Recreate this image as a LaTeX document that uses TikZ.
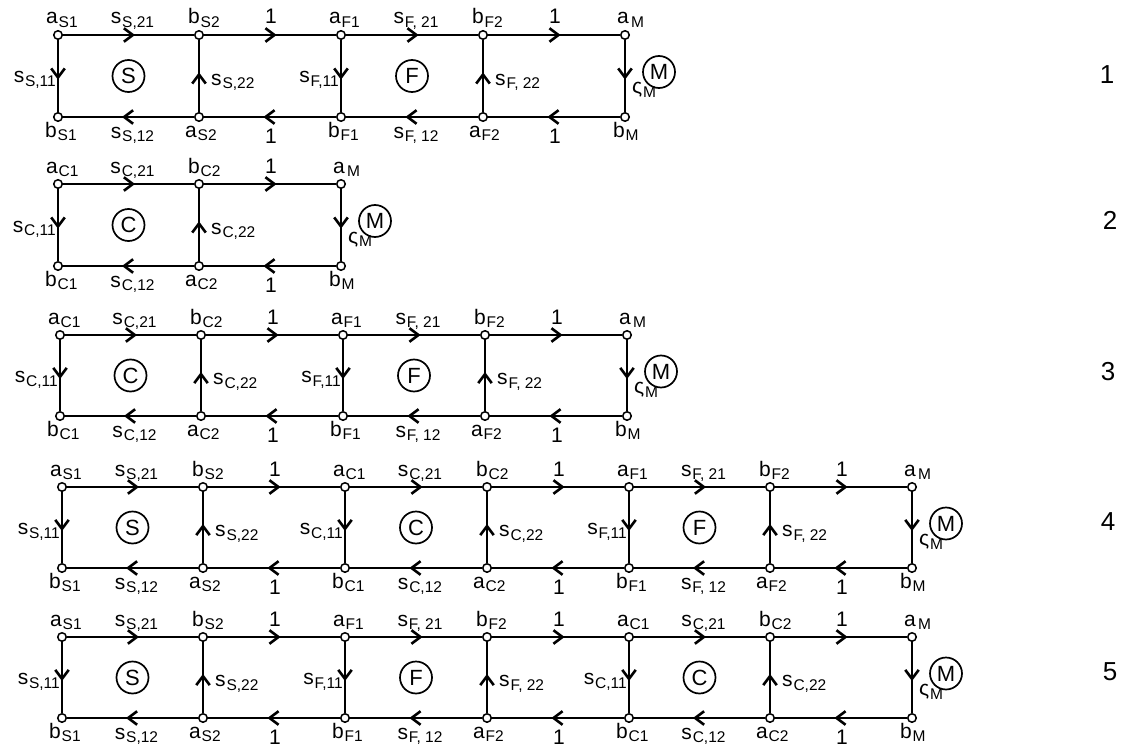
\documentclass[tikz,border=0pt]{standalone}
\usepackage{fontspec}
\setmainfont{Liberation Sans}
\usetikzlibrary{arrows.meta,decorations.markings,calc}
\newcommand\lb[2]{#1\kern0.8pt\raisebox{-3.5pt}{\fontsize{15.5}{16}\selectfont #2}}
\tikzset{
  pt/.style={circle,draw,fill=white,line width=1.5pt,inner sep=0pt,minimum size=8.5pt},
  edge/.style={line width=2.6pt},
  marr/.style={postaction={decorate,decoration={markings,mark=at position 0.55 with {\arrow{Straight Barb[length=9pt,width=13.5pt]}}}}},
  lab/.style={inner sep=0pt,font=\fontsize{21}{21}\selectfont},
  circ/.style={circle,draw,line width=1.7pt,minimum size=32pt,inner sep=0pt,font=\fontsize{22}{22}\selectfont},
  rown/.style={inner sep=0pt,font=\fontsize{26}{26}\selectfont},
}
% #1 row, #2 x0, #3 x1, #4 ytop, #5 ybot, #6 letter, #7 separator
\newcommand\blockU[7]{%
  \node[pt] (#1a#61) at (#2,#4) {};
  \node[pt] (#1b#61) at (#2,#5) {};
  \node[pt] (#1b#62) at (#3,#4) {};
  \node[pt] (#1a#62) at (#3,#5) {};
  \draw[edge,marr] (#1a#61) -- (#1b#62);
  \draw[edge,marr] (#1a#62) -- (#1b#61);
  \draw[edge,marr] (#1a#61) -- (#1b#61);
  \draw[edge,marr] (#1a#62) -- (#1b#62);
  \node[circ] (#1c#6) at ($(#1a#61)!0.5!(#1a#62)$) {#6};
  \node[lab,anchor=base west] (#1la#61) at ($(#1a#61)+(-12,-11)$) {\lb{a}{#61}};
  \node[lab,anchor=base west] (#1lb#62) at ($(#1b#62)+(-11,-11)$) {\lb{b}{#62}};
  \node[lab,anchor=base west] (#1lb#61) at ($(#1b#61)+(-13,20)$) {\lb{b}{#61}};
  \node[lab,anchor=base west] (#1la#62) at ($(#1a#62)+(-14,20)$) {\lb{a}{#62}};
  \node[lab,anchor=base] (#1ls#621) at ($(#1a#61)!0.5!(#1b#62)+(4,-11)$) {\lb{s}{#6#721}};
  \node[lab,anchor=base] (#1ls#612) at ($(#1a#62)!0.5!(#1b#61)+(4,21)$) {\lb{s}{#6#712}};
  \node[lab,anchor=base east] (#1ls#611) at ($(#1a#61)!0.5!(#1b#61)+(-2,7)$) {\lb{s}{#6,11}};
  \node[lab,anchor=base west] (#1ls#622) at ($(#1a#62)!0.5!(#1b#62)+(12,9)$) {\lb{s}{#6#722}};
}
% #1 row, #2 x, #3 ytop, #4 ybot
\newcommand\blockM[4]{%
  \node[pt] (#1aM) at (#2,#3) {};
  \node[pt] (#1bM) at (#2,#4) {};
  \draw[edge,marr] (#1aM) -- (#1bM);
  \node[lab,anchor=base west] (#1laM) at ($(#1aM)+(-8,-11)$) {\lb{a}{\kern1.5pt M}};
  \node[lab,anchor=base west] (#1lbM) at ($(#1bM)+(-12,20)$) {\lb{b}{M}};
  \node[lab,anchor=base west] (#1lsM) at ($(#1aM)!0.5!(#1bM)+(7,18)$) {\lb{ς}{M}};
  \node[circ] (#1cM) at ($(#1aM)!0.5!(#1bM)+(34,-4)$) {M};
}
% #1 row, #2 top from, #3 top to, #4 bottom from, #5 bottom to
\newcommand\conn[5]{%
  \draw[edge,marr] (#1#2) -- (#1#3);
  \draw[edge,marr] (#1#4) -- (#1#5);
  \node[lab,anchor=base] (#1o#2) at ($(#1#2)!0.5!(#1#3)+(1,-11)$) {1};
  \node[lab,anchor=base] (#1o#4) at ($(#1#4)!0.5!(#1#5)+(1,26)$) {1};
}
\begin{document}
\begin{tikzpicture}[x=1pt,y=-1pt]
\useasboundingbox (0,0) rectangle (1128,752);
% row 1
\blockU{r1}{58}{199}{35}{117}{S}{,}
\blockU{r1}{341}{483}{35}{117}{F}{, }
\blockM{r1}{625}{35}{117}
\conn{r1}{bS2}{aF1}{bF1}{aS2}
\conn{r1}{bF2}{aM}{bM}{aF2}
% row 2
\blockU{r2}{58}{199}{184}{266}{C}{,}
\blockM{r2}{341}{184}{266}
\conn{r2}{bC2}{aM}{bM}{aC2}
% row 3
\blockU{r3}{60}{201}{335}{416}{C}{,}
\blockU{r3}{343}{485}{335}{416}{F}{, }
\blockM{r3}{627}{335}{416}
\conn{r3}{bC2}{aF1}{bF1}{aC2}
\conn{r3}{bF2}{aM}{bM}{aF2}
% row 4
\blockU{r4}{62}{203}{487}{568}{S}{,}
\blockU{r4}{345}{487}{487}{568}{C}{,}
\blockU{r4}{629}{770}{487}{568}{F}{, }
\blockM{r4}{912}{487}{568}
\conn{r4}{bS2}{aC1}{bC1}{aS2}
\conn{r4}{bC2}{aF1}{bF1}{aC2}
\conn{r4}{bF2}{aM}{bM}{aF2}
% row 5
\blockU{r5}{62}{203}{637}{718}{S}{,}
\blockU{r5}{345}{487}{637}{718}{F}{, }
\blockU{r5}{629}{770}{637}{718}{C}{,}
\blockM{r5}{912}{637}{718}
\conn{r5}{bS2}{aF1}{bF1}{aS2}
\conn{r5}{bF2}{aC1}{bC1}{aF2}
\conn{r5}{bC2}{aM}{bM}{aC2}
% row numbers
\node[rown] (n1) at (1107,75) {1};
\node[rown] (n2) at (1110,220) {2};
\node[rown] (n3) at (1108,372) {3};
\node[rown] (n4) at (1108,522) {4};
\node[rown] (n5) at (1110,672) {5};
\end{tikzpicture}
\end{document}
